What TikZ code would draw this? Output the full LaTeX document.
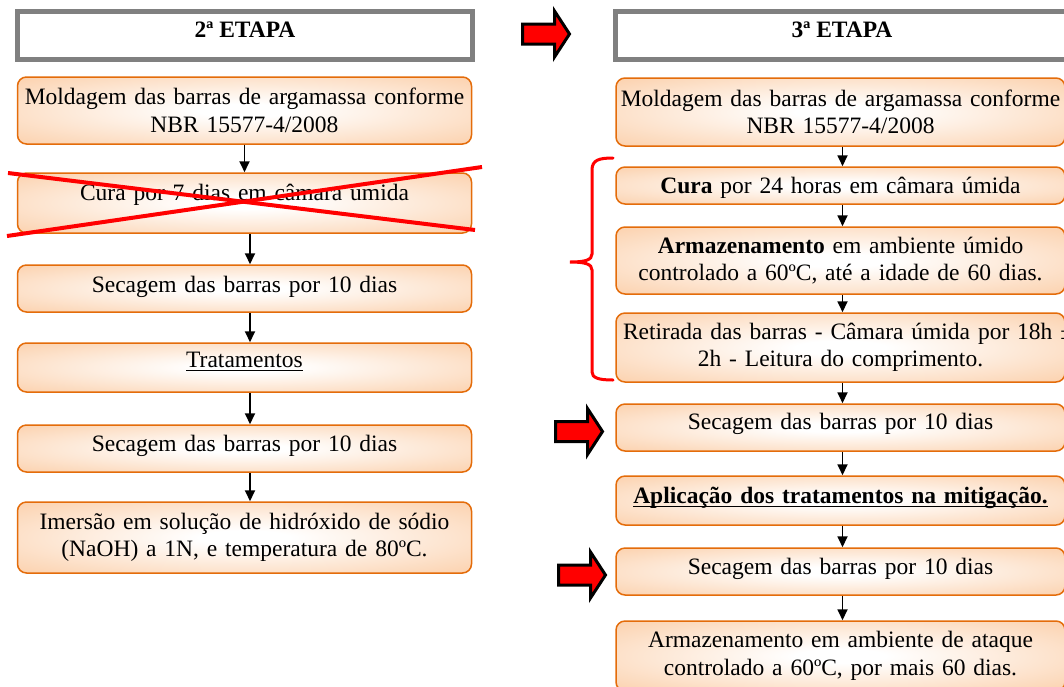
\documentclass[tikz,border=0pt]{standalone}
\usepackage{fontspec}
\setmainfont{Liberation Serif}
\usetikzlibrary{arrows.meta}
\definecolor{boxor}{RGB}{250,192,143}
\definecolor{boxline}{RGB}{228,108,10}
\definecolor{hdrgray}{RGB}{128,128,128}
\pgfdeclareradialshading{boxshade}{\pgfpointorigin}{color(0bp)=(white); color(5bp)=(white); color(47bp)=(boxor); color(80bp)=(boxor)}
\newcommand{\myul}[1]{\setbox0=\hbox{#1}\rlap{\rule[-3.5pt]{\wd0}{1.4pt}}\box0}
\newcommand{\redarrow}[2]{%
  \draw[line width=3pt, fill=red, line join=miter, miter limit=4]
    (#1+1.5,#2-10) -- (#1+33.5,#2-10) -- (#1+33.5,#2-23) -- (#1+48.5,#2) --
    (#1+33.5,#2+23) -- (#1+33.5,#2+10) -- (#1+1.5,#2+10) -- cycle;}
\tikzset{
  stepbox/.style={draw=boxline, line width=1.5pt, rounded corners=9pt, shade, shading=boxshade,
    align=center, inner sep=0pt, font=\fontsize{23.5}{27.6}\selectfont},
  leftbox/.style={stepbox, minimum width=454pt, text width=454pt},
  rightbox/.style={stepbox, minimum width=449pt, text width=449pt},
  hdr/.style={draw=hdrgray, line width=5pt, fill=white, inner sep=0pt, minimum height=48pt,
    font=\bfseries\fontsize{23.5}{27.6}\selectfont, text depth=12pt},
  flow/.style={-{Triangle[length=11pt,width=10pt]}, line width=1.8pt, black},
  cross/.style={red, line width=4pt},
  bracepath/.style={red, line width=3pt, line cap=round}
}
\begin{document}
\begin{tikzpicture}[x=1pt,y=-1pt]
\useasboundingbox (0,0) rectangle (1064,686);
\clip (0,0) rectangle (1064,686);
\fill[white] (0,0) rectangle (1064,686);

% headers
\node[hdr, minimum width=455pt] (h2) at (245,35.5) {2ª ETAPA};
\node[hdr, minimum width=453pt] (h3) at (842,35.5) {3ª ETAPA};

% left column
\node[leftbox, minimum height=67pt] (l1) at (244.5,110.5) {\mbox{Moldagem das barras de argamassa conforme}\\NBR 15577-4/2008};
\node[leftbox, minimum height=60pt, text depth=22pt] (l2) at (244.5,203) {Cura por 7 dias em câmara úmida};
\node[leftbox, minimum height=47pt, text depth=9pt] (l3) at (244.5,288.5) {Secagem das barras por 10 dias};
\node[leftbox, minimum height=49pt, text depth=15pt] (l4) at (244.5,367.5) {\myul{Tratamentos}};
\node[leftbox, minimum height=47pt, text depth=10pt] (l5) at (244.5,448.5) {Secagem das barras por 10 dias};
\node[leftbox, minimum height=71pt] (l6) at (244.5,537.5) {\mbox{Imersão em solução de hidróxido de sódio}\\(NaOH) a 1N, e temperatura de 80ºC.};

\draw[flow] (l1.south) -- (l2.north);
\draw[flow] ([xshift=5.5]l2.south) -- ([xshift=5.5]l3.north);
\draw[flow] ([xshift=5.5]l3.south) -- ([xshift=5.5]l4.north);
\draw[flow] ([xshift=5.5]l4.south) -- ([xshift=5.5]l5.north);
\draw[flow] ([xshift=5.5]l5.south) -- ([xshift=5.5]l6.north);

% red cross over l2
\draw[cross] (7,236) -- (482,167);
\draw[cross] (8,173) -- (475,230);

% right column
\node[rightbox, minimum height=68pt] (r1) at (840.5,112) {\mbox{Moldagem das barras de argamassa conforme}\\NBR 15577-4/2008};
\node[rightbox, minimum height=37pt, text depth=1pt] (r2) at (840.5,185.5) {\textbf{Cura} por 24 horas em câmara úmida};
\node[rightbox, minimum height=67pt] (r3) at (840.5,260.5) {\textbf{Armazenamento} em ambiente úmido\\\mbox{controlado a 60ºC, até a idade de 60 dias.}};
\node[rightbox, minimum height=69pt, text width=435pt] (r4) at (840.5,347.5) {\mbox{Retirada das barras - Câmara úmida por 18h ±}\\2h - Leitura do comprimento.};
\node[rightbox, minimum height=47pt, text depth=11.5pt] (r5) at (840.5,427.5) {Secagem das barras por 10 dias};
\node[rightbox, minimum height=49pt, text depth=10.5pt] (r6) at (840.5,500.5) {\textbf{\myul{Aplicação dos tratamentos na mitigação.}}};
\node[rightbox, minimum height=47pt, text depth=11pt] (r7) at (840.5,571.5) {Secagem das barras por 10 dias};
\node[rightbox, minimum height=70pt] (r8) at (840.5,656) {Armazenamento em ambiente de ataque\\controlado a 60ºC, por mais 60 dias.};

\draw[flow] ([xshift=2]r1.south) -- ([xshift=2]r2.north);
\draw[flow] ([xshift=2]r2.south) -- ([xshift=2]r3.north);
\draw[flow] ([xshift=2]r3.south) -- ([xshift=2]r4.north);
\draw[flow] ([xshift=2]r4.south) -- ([xshift=2]r5.north);
\draw[flow] ([xshift=2]r5.south) -- ([xshift=2]r6.north);
\draw[flow] ([xshift=2]r6.south) -- ([xshift=2]r7.north);
\draw[flow] ([xshift=2]r7.south) -- ([xshift=2]r8.north);

% red brace
\draw[bracepath] (613,158) .. controls (599,158) and (592,160) .. (592,170) -- (592,254)
  .. controls (592,260) and (585,262) .. (570,262)
  .. controls (585,262) and (592,264) .. (592,270) -- (592,372)
  .. controls (592,378) and (599,380) .. (613,380);

% red block arrows
\redarrow{521}{34}
\redarrow{554}{431.5}
\redarrow{557}{575}
\end{tikzpicture}
\end{document}
